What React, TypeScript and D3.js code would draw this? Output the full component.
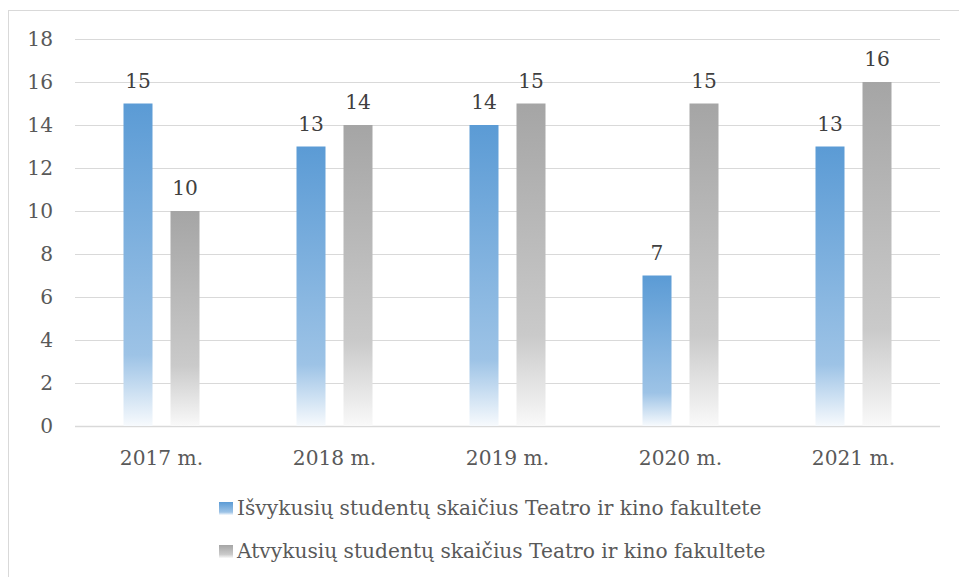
import * as d3 from 'd3';
import React, { useRef, useEffect } from 'react';

const years = ['2017 m.', '2018 m.', '2019 m.', '2020 m.', '2021 m.'];
const outgoing = [15, 13, 14, 7, 13];
const incoming = [10, 14, 15, 15, 16];
const seriesNames = [
  'Išvykusių studentų skaičius Teatro ir kino fakultete',
  'Atvykusių studentų skaičius Teatro ir kino fakultete',
];
const yTicks = [0, 2, 4, 6, 8, 10, 12, 14, 16, 18];

const W = 959;
const H = 577;
const FONT = '"DejaVu Serif", "Liberation Serif", serif';
const FS = 20.2;
const TEXT = '#595959';

export default function App() {
  const ref = useRef<HTMLDivElement>(null);

  useEffect(() => {
    d3.select(ref.current).selectAll('svg').remove();

    const svg = d3.select(ref.current)
      .append('svg')
      .attr('width', W)
      .attr('height', H)
      .style('display', 'block');

    const defs = svg.append('defs');
    const grads = [
      { id: 'gBlue', stops: [['0%', '#5B9BD5'], ['78%', '#9DC3E6'], ['100%', '#F7FAFD']] },
      { id: 'gGray', stops: [['0%', '#A5A5A5'], ['72%', '#CACACA'], ['100%', '#F9F9F9']] },
    ];
    grads.forEach(g => {
      const lg = defs.append('linearGradient')
        .attr('id', g.id)
        .attr('x1', 0).attr('y1', 0).attr('x2', 0).attr('y2', 1);
      g.stops.forEach(s => lg.append('stop').attr('offset', s[0]).attr('stop-color', s[1]));
    });

    svg.append('rect')
      .attr('x', 8.5).attr('y', 10.5)
      .attr('width', 980).attr('height', 600)
      .attr('fill', '#fff')
      .attr('stroke', '#d9d9d9');

    const left = 75, right = 940, top = 39, bottom = 426;

    const x = d3.scaleBand().domain(years).range([left, right]);
    const y = d3.scaleLinear().domain([0, 18]).range([bottom, top]);

    const barW = 29;
    const gap = 18;

    // gridlines
    svg.append('g')
      .selectAll('line')
      .data(yTicks)
      .join('line')
      .attr('x1', left).attr('x2', right)
      .attr('y1', d => Math.round(y(d)) + 0.5)
      .attr('y2', d => Math.round(y(d)) + 0.5)
      .attr('stroke', '#d9d9d9')
      .attr('stroke-width', d => d === 0 ? 1.5 : 1);

    // y labels
    svg.append('g')
      .selectAll('text')
      .data(yTicks)
      .join('text')
      .attr('x', 53)
      .attr('y', d => y(d))
      .attr('dy', '0.36em')
      .attr('text-anchor', 'end')
      .attr('font-family', FONT)
      .attr('font-size', FS)
      .attr('fill', TEXT)
      .text(d => d);

    const series = [
      { values: outgoing, fill: 'url(#gBlue)', off: -(gap / 2 + barW / 2) },
      { values: incoming, fill: 'url(#gGray)', off: gap / 2 + barW / 2 },
    ];

    series.forEach(s => {
      const g = svg.append('g');
      g.selectAll('rect')
        .data(s.values)
        .join('rect')
        .attr('x', (d, i) => x(years[i])! + x.bandwidth() / 2 + s.off - barW / 2)
        .attr('y', d => y(d))
        .attr('width', barW)
        .attr('height', d => bottom - y(d))
        .attr('fill', s.fill);
      g.selectAll('text')
        .data(s.values)
        .join('text')
        .attr('x', (d, i) => x(years[i])! + x.bandwidth() / 2 + s.off)
        .attr('y', d => y(d) - 16)
        .attr('text-anchor', 'middle')
        .attr('font-family', FONT)
        .attr('font-size', FS)
        .attr('fill', '#404040')
        .text(d => d);
    });

    // x labels
    svg.append('g')
      .selectAll('text')
      .data(years)
      .join('text')
      .attr('x', d => x(d)! + x.bandwidth() / 2)
      .attr('y', 465)
      .attr('text-anchor', 'middle')
      .attr('font-family', FONT)
      .attr('font-size', FS)
      .attr('fill', TEXT)
      .text(d => d);

    // legend
    const legend = svg.append('g');
    seriesNames.forEach((name, i) => {
      const ly = 515 + i * 43;
      legend.append('rect')
        .attr('x', 219).attr('y', ly - 13)
        .attr('width', 14).attr('height', 13)
        .attr('fill', i === 0 ? 'url(#gBlue)' : 'url(#gGray)');
      legend.append('text')
        .attr('x', 237).attr('y', ly)
        .attr('font-family', FONT)
        .attr('font-size', FS)
        .attr('fill', TEXT)
        .text(name);
    });
  }, []);

  return <div ref={ref} style={{ position: 'absolute', left: 0, top: 0 }} />;
}
